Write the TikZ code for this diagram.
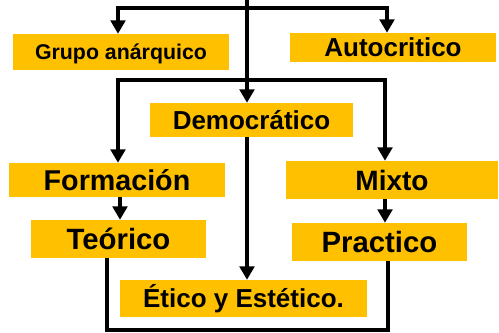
\documentclass[tikz,border=0pt]{standalone}
\usepackage{fontspec}
\setmainfont{Liberation Sans}
\usetikzlibrary{arrows.meta}
\definecolor{gold}{HTML}{FFC000}
\begin{document}
\begin{tikzpicture}[x=0.75pt,y=-0.75pt,
  box/.style n args={2}{fill=gold, inner sep=0pt, text=black,
    font=\fontsize{#1}{#1}\selectfont\bfseries, text height=#2, text depth=0pt},
  arr/.style={line width=2.3pt, -{Triangle[width=11pt,length=10pt]}},
  ln/.style={line width=2.3pt, line join=miter}]
\useasboundingbox (0,0) rectangle (499,332);
% nodes
\node[box={16pt}{11.5pt}, minimum width=162pt, minimum height=27pt] (grupo) at (121,52) {Grupo anárquico};
\node[box={19.5pt}{14pt}, minimum width=154.5pt, minimum height=21.75pt] (auto) at (393,47.5) {Autocritico};
\node[box={19.5pt}{14pt}, minimum width=152.25pt, minimum height=25.5pt] (demo) at (251.5,120) {Democrático};
\node[box={21.5pt}{15.5pt}, minimum width=162pt, minimum height=25.5pt] (form) at (117,180) {Formación};
\node[box={22pt}{15.8pt}, minimum width=131.25pt, minimum height=28.5pt] (teo) at (118.5,239) {Teórico};
\node[box={19.5pt}{14pt}, minimum width=185.25pt, minimum height=27.75pt] (etico) at (243.5,298.5) {Ético y Estético.};
\node[box={21pt}{15.1pt}, minimum width=159pt, minimum height=28.5pt] (mixto) at (392,180) {Mixto};
\node[box={22pt}{15.8pt}, minimum width=131.25pt, minimum height=28.5pt] (prac) at (379.5,242) {Practico};
% helper coordinates
\coordinate (top) at (247,0);
\coordinate (j1) at (247,8);
\coordinate (j2) at (247,80);
\coordinate (xl) at (118,0);
\coordinate (xr) at (387,0);
\coordinate (xl2) at (118,0);
\coordinate (xr2) at (385,0);
\coordinate (xf) at (120,0);
\coordinate (xm) at (385,0);
\coordinate (xt) at (107,0);
\coordinate (xp) at (388,0);
\coordinate (xd) at (247,0);
\coordinate (bot) at (0,330);
% connectors
\draw[arr] (top) -- (xd |- demo.north);
\draw[arr] (j1) -| (xl |- grupo.north);
\draw[arr] (j1) -| (xr |- auto.north);
\draw[arr] (j2) -| (xl2 |- form.north);
\draw[arr] (j2) -| (xr2 |- mixto.north);
\draw[arr] (xd |- demo.south) -- (xd |- etico.north);
\draw[arr] (xf |- form.south) -- (xf |- teo.north);
\draw[arr] (xm |- mixto.south) -- (xm |- prac.north);
\draw[ln] (xt |- teo.south) -- (xt |- bot) -- (xp |- bot) -- (xp |- prac.south);
\end{tikzpicture}
\end{document}
